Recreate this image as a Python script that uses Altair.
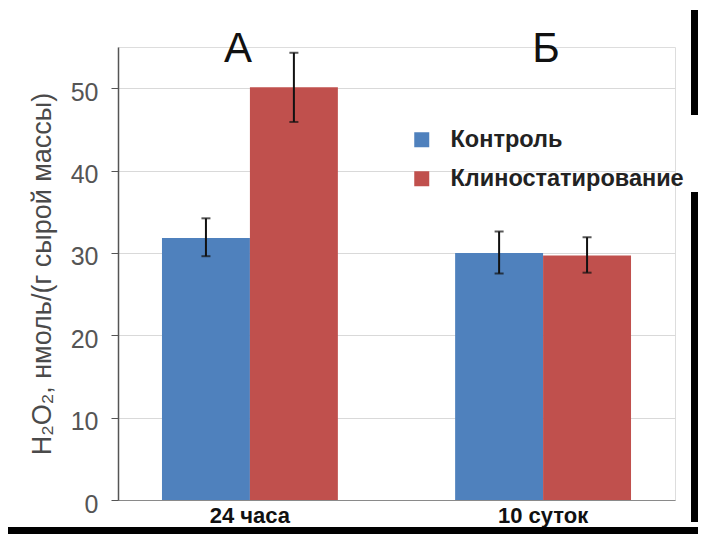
import altair as alt
import pandas as pd

periods = ["24 часа", "24 часа", "10 суток", "10 суток"]
groups = ["Контроль", "Клиностатирование", "Контроль", "Клиностатирование"]
means = [31.8, 50.1, 30.0, 29.7]
err_low = [29.6, 45.9, 27.5, 27.6]
err_high = [34.2, 54.3, 32.6, 31.9]
period_order = ["24 часа", "10 суток"]
group_order = ["Контроль", "Клиностатирование"]
colors = ["#4f81bd", "#c0504d"]
panel_labels = ["А", "Б"]
y_ticks = [0, 10, 20, 30, 40, 50]
y_title = "H₂O₂, нмоль/(г сырой массы)"

df = pd.DataFrame({"period": periods, "group": groups, "mean": means,
                   "lo": err_low, "hi": err_high})
panels = pd.DataFrame({"period": period_order, "label": panel_labels})

FONT = "Liberation Sans"
W, H = 557, 453

x_enc = alt.X("period:N", sort=period_order,
              scale=alt.Scale(paddingInner=0.4, paddingOuter=0.15),
              axis=alt.Axis(title=None, labelFontWeight="bold", labelFontSize=22,
                            labelColor="#111", labelAngle=0, ticks=False,
                            labelPadding=5, domainColor="#8a8a8a", grid=False))
y_scale = alt.Scale(domain=[0, 55], nice=False)
xo = alt.XOffset("group:N", sort=group_order)

bars = alt.Chart(df).mark_bar(stroke=None).encode(
    x=x_enc,
    xOffset=xo,
    y=alt.Y("mean:Q", scale=y_scale,
            axis=alt.Axis(values=y_ticks, title=y_title, titleFontSize=27,
                          titleFontWeight="normal", titleColor="#4a4a4a",
                          titlePadding=14, labelFontSize=25, labelColor="#555",
                          labelPadding=13, labelOffset=4, tickSize=7,
                          tickColor="#555", domainColor="#555", domainWidth=1.5,
                          gridColor="#d9d9d9", grid=True)),
    color=alt.Color("group:N", sort=group_order,
                    scale=alt.Scale(domain=group_order, range=colors),
                    legend=alt.Legend(title=None, orient="none", legendX=292,
                                      legendY=81, symbolType="square",
                                      symbolSize=225, symbolStrokeWidth=0,
                                      labelFontSize=23.5, labelFontWeight="bold",
                                      labelColor="#222", labelOffset=17,
                                      labelLimit=400, rowPadding=14)),
)

rules = alt.Chart(df).mark_rule(color="#111", strokeWidth=2).encode(
    x=alt.X("period:N", sort=period_order), xOffset=xo,
    y=alt.Y("lo:Q", scale=y_scale), y2="hi:Q")

caps_hi = alt.Chart(df).mark_tick(color="#111", thickness=2, size=9).encode(
    x=alt.X("period:N", sort=period_order), xOffset=xo,
    y=alt.Y("hi:Q", scale=y_scale))
caps_lo = alt.Chart(df).mark_tick(color="#111", thickness=2, size=9).encode(
    x=alt.X("period:N", sort=period_order), xOffset=xo,
    y=alt.Y("lo:Q", scale=y_scale))

letter_a = alt.Chart(panels).transform_filter(alt.datum.label == "А").mark_text(
    fontSize=42, font=FONT, color="#111", baseline="alphabetic", dx=-12).encode(
    x=alt.X("period:N", sort=period_order), y=alt.value(15), text="label:N")
letter_b = alt.Chart(panels).transform_filter(alt.datum.label == "Б").mark_text(
    fontSize=42, font=FONT, color="#111", baseline="alphabetic", dx=3).encode(
    x=alt.X("period:N", sort=period_order), y=alt.value(15), text="label:N")

frame = alt.Data(values=[{}])
band = alt.Chart(frame).mark_rect(color="#000").encode(
    x=alt.value(-110), x2=alt.value(580), y=alt.value(480), y2=alt.value(495))
side1 = alt.Chart(frame).mark_rect(color="#000").encode(
    x=alt.value(573), x2=alt.value(580), y=alt.value(-37), y2=alt.value(68))
side2 = alt.Chart(frame).mark_rect(color="#000").encode(
    x=alt.value(573), x2=alt.value(580), y=alt.value(145), y2=alt.value(475))

chart = alt.layer(bars, rules, caps_hi, caps_lo, letter_a, letter_b,
                  band, side1, side2).properties(
    width=W, height=H,
    autosize=alt.AutoSizeParams(type="none"),
    padding={"left": 110, "top": 39, "right": 23, "bottom": 34},
    background="white",
).configure_view(stroke=None).configure(font=FONT)

chart.save("out.html", embed_options={"renderer": "svg", "actions": False})
